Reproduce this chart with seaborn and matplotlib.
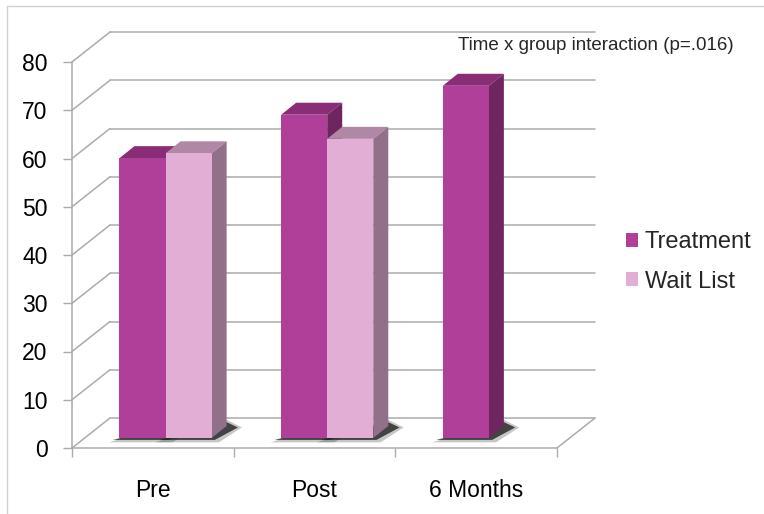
import matplotlib
matplotlib.use("Agg")
import matplotlib.pyplot as plt
import matplotlib.transforms as mtransforms
from matplotlib.patches import Polygon
from matplotlib.lines import Line2D
import numpy as np
import pandas as pd
import seaborn as sns

# ---- data -------------------------------------------------------------
times = ["Pre", "Post", "6 Months"]
groups = ["Treatment", "Wait List"]
treatment = [58, 67, 73]
wait_list = [59, 62]          # wait-list group has no 6-month assessment
y_ticks = [0, 10, 20, 30, 40, 50, 60, 70, 80]
note = "Time x group interaction (p=.016)"

front_colors = {"Treatment": "#B03F9A", "Wait List": "#E3AED6"}
top_colors = {"Treatment": "#8A2D77", "Wait List": "#B088A6"}
side_colors = {"Treatment": "#6E2560", "Wait List": "#937089"}

rows = [(t, "Treatment", v) for t, v in zip(times, treatment)]
rows += [(t, "Wait List", v) for t, v in zip(times, wait_list)]
df = pd.DataFrame(rows, columns=["Time", "Group", "Score"])

# ---- style ------------------------------------------------------------
sns.set_theme(style="white")
plt.rcParams["font.family"] = ["Liberation Sans", "DejaVu Sans"]

W, H = 764, 514
fig = plt.figure(figsize=(W / 100, H / 100), dpi=100)
# front plane of the pseudo-3D box, in pixels: x 72..557, y 62..448
ax = fig.add_axes([72 / W, (H - 448) / H, (557 - 72) / W, (448 - 62) / H])

sns.barplot(data=df, x="Time", y="Score", hue="Group", order=times,
            hue_order=groups, palette=front_colors, width=0.57,
            saturation=1, errorbar=None, linewidth=0, ax=ax)
ax.set_xlim(-0.5, 2.5)
ax.set_ylim(0, 80)
ax.set_xlabel("")
ax.set_ylabel("")

# pixel depth vectors converted to data units
sx = 3 / (557 - 72)
sy = 80 / (448 - 62)
def depth(dx_px, dy_px):
    return dx_px * sx, dy_px * sy

wall = depth(38, 30)        # back wall offset
bar_shift = depth(12.7, 10)  # bars stand a third of the way into the box
bar_depth = depth(15, 12)    # thickness of each bar

grid_c = "#ABABAB"
grid_lw = 1.1
for v in y_ticks:
    ax.plot([-0.5 + wall[0], 2.5 + wall[0]], [v + wall[1]] * 2,
            color=grid_c, lw=grid_lw, clip_on=False, zorder=1)
    ax.plot([-0.5, -0.5 + wall[0]], [v, v + wall[1]],
            color=grid_c, lw=grid_lw, clip_on=False, zorder=1)
ax.plot([2.5, 2.5 + wall[0]], [0, wall[1]], color=grid_c, lw=grid_lw,
        clip_on=False, zorder=1)

# ---- extrude the seaborn bars ----------------------------------------
shift_tf = mtransforms.Affine2D().translate(*bar_shift) + ax.transData
bdx, bdy = bar_depth
for k, (container, group) in enumerate(zip(ax.containers, groups)):
    for bar in container:
        h = bar.get_height()
        if not np.isfinite(h) or h == 0:
            continue
        x0 = bar.get_x()
        x1 = x0 + bar.get_width()
        bar.set_transform(shift_tf)
        bar.set_clip_on(False)
        bar.set_zorder(3 + k)
        # soft contact shadow on the floor
        for grow, alpha in ((0.025, 0.25), (0.0, 0.8)):
            shadow = Polygon([(x0 - 0.04 - grow, -0.4 - grow * 20),
                              (x1 + 0.02 + grow, -0.4 - grow * 20),
                              (x1 + bdx + 0.07 + grow, bdy - 0.3),
                              (x1 + bdx, bdy + 0.8 + grow * 20)],
                             closed=True, facecolor="#222222", edgecolor="none",
                             alpha=alpha, transform=shift_tf, clip_on=False,
                             zorder=2)
            ax.add_patch(shadow)
        top = Polygon([(x0, h), (x1, h), (x1 + bdx, h + bdy), (x0 + bdx, h + bdy)],
                      closed=True, facecolor=top_colors[group], edgecolor="none",
                      transform=shift_tf, clip_on=False, zorder=2.5 + k)
        side = Polygon([(x1, 0), (x1 + bdx, bdy), (x1 + bdx, h + bdy), (x1, h)],
                       closed=True, facecolor=side_colors[group], edgecolor="none",
                       transform=shift_tf, clip_on=False, zorder=2.5 + k)
        ax.add_patch(top)
        ax.add_patch(side)

# ---- axes -------------------------------------------------------------
for s in ("top", "right"):
    ax.spines[s].set_visible(False)
for s in ("left", "bottom"):
    ax.spines[s].set_color(grid_c)
    ax.spines[s].set_linewidth(grid_lw)

ax.set_yticks(y_ticks)
ax.tick_params(axis="y", left=True, length=6.5, width=1, color=grid_c,
               labelsize=16.5, pad=11, labelcolor="black")
ax.set_xticks(range(len(times)), times)
ax.set_xticks([-0.5, 0.5, 1.5, 2.5], minor=True)
ax.tick_params(axis="x", which="major", length=0, labelsize=16.5, pad=22,
               labelcolor="black")
ax.tick_params(axis="x", which="minor", bottom=True, length=6.5, width=1,
               color=grid_c)

handles, labels = ax.get_legend_handles_labels()
if ax.get_legend() is not None:
    ax.get_legend().remove()
fig.legend(handles, labels, loc="center left",
           bbox_to_anchor=(626 / W, (H - 262) / H), frameon=False,
           fontsize=17, handlelength=0.5, handleheight=0.5,
           handletextpad=0.3, labelspacing=0.72, borderpad=0,
           borderaxespad=0)

fig.text(458 / W, (H - 46) / H, note, fontsize=13.5, ha="left", va="center")

# thin frame on the top and left edges
fig.add_artist(Line2D([7 / W, 1], [1 - 6 / H] * 2, transform=fig.transFigure,
                      color="#D0D0D0", lw=1))
fig.add_artist(Line2D([7 / W] * 2, [0, 1 - 6 / H], transform=fig.transFigure,
                      color="#D0D0D0", lw=1))

fig.savefig("out.png", dpi=100)
